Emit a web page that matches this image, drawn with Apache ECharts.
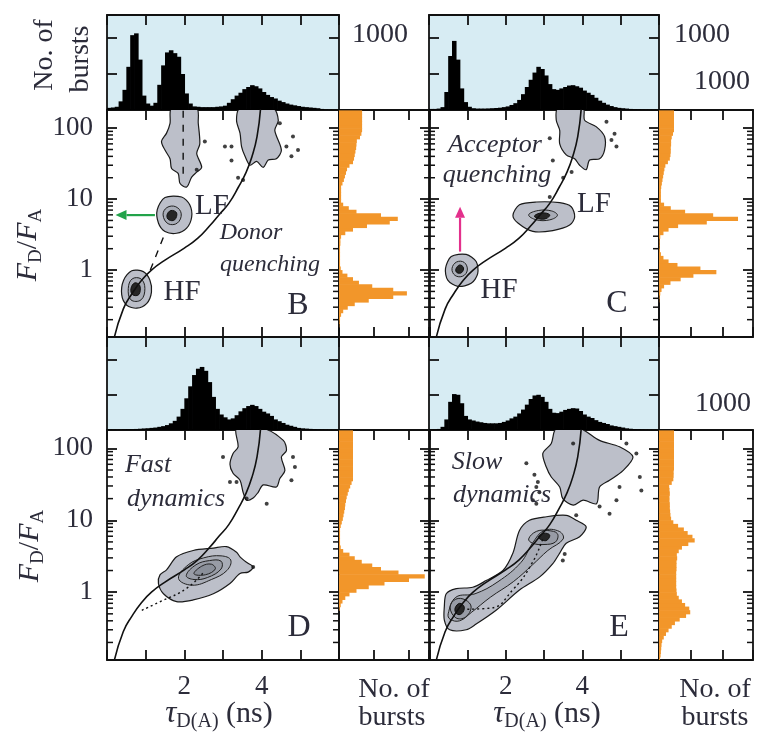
<!DOCTYPE html>
<html>
<head>
<meta charset="utf-8">
<script src="https://cdn.jsdelivr.net/npm/echarts@6.0.0/dist/echarts.min.js"></script>
<style>
html,body{margin:0;padding:0;background:#fff;}
#chart{width:765px;height:734px;}
#err{position:absolute;left:0;top:0;width:765px;color:red;font:11px monospace;white-space:pre-wrap;z-index:10;}
</style>
</head>
<body>
<div id="chart"></div>
<div id="err"></div>
<script>
const errs=[];
function logErr(m){errs.push(String(m).slice(0,400));document.getElementById('err').textContent=errs.join('\n');}
window.onerror=function(m,s,l,c,e){logErr('ERR '+m+' '+(e&&e.stack?e.stack.split('\n').slice(0,4).join(' | '):''));};
const oe=console.error;console.error=function(){logErr('CE '+Array.from(arguments).join(' '));oe.apply(console,arguments);};
const ow=console.warn;console.warn=function(){logErr('CW '+Array.from(arguments).join(' '));ow.apply(console,arguments);};

// ---------------- DATA ----------------
const tauBinCenters = [0.05,0.15,0.25,0.35,0.45,0.55,0.65,0.75,0.85,0.95,1.05,1.15,1.25,1.35,1.45,1.55,1.65,1.75,1.85,1.95,2.05,2.15,2.25,2.35,2.45,2.55,2.65,2.75,2.85,2.95,3.05,3.15,3.25,3.35,3.45,3.55,3.65,3.75,3.85,3.95,4.05,4.15,4.25,4.35,4.45,4.55,4.65,4.75,4.85,4.95,5.05,5.15,5.25,5.35,5.45,5.55,5.65,5.75,5.85,5.95];
const histTopB = [30,35,45,120,280,600,1040,1065,700,200, 90,60,100,350,620,800,830,790,740,500, 230,90,50,45,40,40,40,40,45,50, 60,100,150,200,240,290,320,345,330,300, 250,210,180,160,130,110,90,75,65,55, 45,40,35,30,25,15,8,5,3,2];
const histTopC = [15,15,20,40,250,750,960,700,300,110, 45,25,20,20,20,22,25,28,32,40, 50,70,95,140,220,320,420,520,600,570, 480,360,290,280,300,320,340,345,330,310, 270,240,210,170,130,100,75,55,40,30, 25,20,15,12,10,8,6,5,4,3];
const histTopD = [5,5,5,5,8,10,12,15,18,22, 25,30,35,45,55,70,95,130,190,300, 450,620,780,870,895,840,680,470,300,220, 180,150,165,210,265,310,340,357,340,300, 260,235,200,150,125,100,75,60,45,30, 24,20,16,13,10,8,6,4,3,2];
const histTopE = [8,10,15,45,150,400,510,500,380,200, 150,135,120,110,100,95,95,95,100,115, 135,165,190,235,290,360,440,490,500,470, 400,300,245,240,260,285,300,310,305,270, 220,190,170,140,115,100,85,65,55,45, 35,24,18,14,11,9,6,4,3,2];

const fLogEdges = [-0.95,-0.9,-0.85,-0.8,-0.75,-0.7,-0.65,-0.6,-0.55,-0.5,-0.45,-0.4,-0.35,-0.3,-0.25,-0.2,-0.15,-0.1,-0.05,0,0.05,0.1,0.15,0.2,0.25,0.3,0.35,0.4,0.45,0.5,0.55,0.6,0.65,0.7,0.75,0.8,0.85,0.9,0.95,1,1.05,1.1,1.15,1.2,1.25,1.3,1.35,1.4,1.45,1.5,1.55,1.6,1.65,1.7,1.75,1.8,1.85,1.9,1.95,2,2.05,2.1,2.15,2.2,2.25];
const rhB = [0,0,0,1,2,3,6,12,25,45, 85,155,194,155,95,57,40,24,10,5, 3,3,3,3,3,3,4,4,6,18, 40,80,145,168,120,50,28,12,6,6, 6,6,6,10,14,17,20,23,30,40, 43,45,47,49,50,51,60,64,66,66, 66,66,66,66];
const rhC = [0,0,0,0,0,0,0,0,0,0, 1,2,4,8,16,36,68,108,180,130, 58,30,14,6,3,2,2,2,4,14, 30,60,150,248,170,82,37,16,6,6, 6,6,7,9,11,13,15,17,20,28, 34,36,37,37,38,38,40,44,47,47, 47,47,47,47];
const rhD = [0,0,0,0,0,0,0,0,0,0, 0,0,0,0,2,5,10,18,30,50, 85,130,200,245,170,120,95,65,45,30, 12,5,3,3,3,3,3,5,8,11, 13,15,17,18,20,22,25,28,32,36, 40,40,40,40,40,40,40,40,40,40, 40,40,40,40];
const rhE = [3,5,6,7,8,10,15,22,30,40, 50,65,85,98,95,82,72,62,56,55, 54,54,54,54,54,55,55,55,57,56, 62,72,92,112,105,90,78,60,45,38, 36,35,34,34,33,33,34,33,32,40, 45,46,46,47,47,47,47,47,47,47, 47,47,47,47];

const tauTicks = [2, 4];
const fMajorTicks = [1, 10, 100];
const logMinorTicks = [0.2,0.3,0.4,0.5,0.6,0.7,0.8,0.9,2,3,4,5,6,7,8,9,20,30,40,50,60,70,80,90];

const staticTau = [0.18,0.42,0.65,0.9,1.15,1.5,2.0,2.35,2.65,2.9,3.15,3.4,3.6,3.75,3.88,3.97];
const staticF   = [0.108,0.282,0.468,0.724,1.0,1.38,2.04,2.82,4.17,6.03,8.71,14.8,24,39.8,75.9,185];

const blobB1 = [[1.67,190],[2.32,190],[2.36,117],[2.40,60],[2.32,44],[2.45,28],[2.32,24],[2.19,20.4],[2.06,14.8],[1.89,16.6],[1.84,23],[1.67,27],[1.63,37],[1.5,49],[1.41,65],[1.54,85],[1.63,117]];
const blobB2 = [[3.44,190],[4.3,190],[4.43,129],[4.34,93],[4.51,49],[4.38,37],[4.17,35.5],[4.04,28],[3.87,34],[3.7,30],[3.57,40],[3.48,55],[3.44,85],[3.35,129]];
const blobBLF = [[1.5,10.5],[1.93,10.7],[2.14,8.3],[2.19,5.6],[2.06,3.9],[1.8,3.3],[1.5,3.5],[1.33,4.6],[1.30,7.1]];
const blobBHF = [[0.64,0.98],[0.94,0.95],[1.11,0.72],[1.15,0.49],[1.03,0.34],[0.77,0.29],[0.51,0.32],[0.38,0.45],[0.43,0.72]];
const ringBLF = [[1.45,6.0],[1.55,7.6],[1.78,7.8],[1.92,6.2],[1.82,4.6],[1.58,4.5]];
const coreBLF = [[1.55,5.9],[1.65,6.9],[1.8,6.4],[1.75,5.1],[1.6,5.1]];
const ringBHF = [[0.55,0.55],[0.65,0.75],[0.88,0.75],[0.98,0.55],[0.88,0.38],[0.62,0.38]];
const coreBHF = [[0.62,0.55],[0.72,0.66],[0.85,0.6],[0.82,0.45],[0.66,0.45]];
const dotsB = [[2.53,65],[2.32,26],[3.05,55],[3.22,55],[3.22,35],[3.39,20],[3.52,18.6],[4.64,55],[4.81,76],[4.77,40],[4.94,49],[4.47,117]];
const dashB1 = [[1.97,175],[1.97,20]];
const dashB2 = [[1.12,1.0],[1.5,3.3]];
const arrowB = [[1.24,5.95],[0.22,5.95]];

const blobC1 = [[3.36,190],[4.02,190],[4.06,129],[4.36,105],[4.58,76],[4.58,49],[4.45,37],[4.19,35.5],[4.1,26],[3.93,30],[3.8,37],[3.58,42],[3.41,60],[3.41,93],[3.32,129]];
const blobCLF = [[2.36,8.3],[2.8,9.1],[3.41,8.9],[3.71,7.8],[3.8,5.6],[3.67,4.3],[3.23,3.6],[2.71,3.5],[2.32,4.6],[2.19,5.9]];
const blobCHF = [[0.58,1.55],[0.97,1.66],[1.23,1.32],[1.27,0.89],[1.1,0.65],[0.75,0.59],[0.49,0.72],[0.43,1.05]];
const ringCLF = [[2.6,6.0],[2.85,6.9],[3.2,6.8],[3.35,5.9],[3.15,5.1],[2.8,5.1]];
const coreCLF = [[2.75,5.8],[2.95,6.4],[3.15,6.0],[3.05,5.3],[2.85,5.3]];
const ringCHF = [[0.6,1.05],[0.72,1.3],[0.92,1.28],[1.0,1.0],[0.88,0.82],[0.68,0.84]];
const coreCHF = [[0.7,1.03],[0.8,1.18],[0.9,1.08],[0.85,0.92],[0.73,0.92]];
const dotsC = [[3.15,72],[3.23,35],[3.5,20],[3.72,24],[3.15,10.7],[4.76,68],[4.89,55],[4.84,83],[4.63,123]];
const arrowC = [[0.81,1.82],[0.81,7.8]];

const blobD1 = [[3.35,190],[4.04,190],[4.56,129],[4.64,93],[4.51,76],[4.6,49],[4.47,38],[4.38,29],[4.04,31],[3.91,24.5],[3.78,20.4],[3.61,19],[3.52,24.5],[3.44,36],[3.26,45],[3.18,60],[3.26,85],[3.39,105]];
const blobD2 = [[1.54,2.04],[1.8,3.1],[2.23,3.8],[2.75,4.1],[3.09,4.3],[3.35,3.6],[3.44,3.1],[3.61,2.6],[3.78,2.24],[3.65,1.9],[3.44,1.82],[3.18,1.32],[2.75,0.95],[2.23,0.78],[1.8,0.74],[1.46,0.95],[1.33,1.32],[1.37,1.74]];
const ringD1 = [[1.85,1.55],[2.1,2.4],[2.5,3.0],[2.95,3.2],[3.2,2.8],[3.1,2.0],[2.7,1.5],[2.2,1.25]];
const ringD2 = [[2.05,1.7],[2.3,2.4],[2.65,2.75],[2.95,2.7],[2.95,2.1],[2.6,1.6],[2.25,1.5]];
const ringD3 = [[2.25,1.8],[2.45,2.3],[2.7,2.45],[2.8,2.1],[2.55,1.75]];
const dotsD = [[3.0,76],[3.18,34],[3.35,34],[3.61,20],[4.13,17],[4.81,76],[4.86,55],[4.77,36],[3.78,2.24]];
const dotD = [[0.9,0.56],[1.4,0.75],[2.05,1.12],[2.5,1.9]];

const blobE1 = [[3.32,190],[3.93,190],[4.45,129],[4.97,105],[5.32,76],[5.06,49],[4.71,36],[4.45,29],[4.37,17],[4.02,19],[3.76,16.2],[3.49,20],[3.41,29],[3.19,40],[3.06,55],[2.97,85],[3.19,117]];
const blobE2 = [[0.45,0.95],[0.71,1.12],[1.14,1.17],[1.49,1.45],[1.93,2.0],[2.19,3.5],[2.36,7.2],[2.62,10],[3.06,11.2],[3.58,11.7],[3.84,10],[4.1,8.1],[3.93,5.9],[3.58,4.8],[3.41,3.5],[3.23,2.5],[2.88,1.62],[2.36,1.07],[1.75,0.56],[1.23,0.36],[0.97,0.3],[0.54,0.3],[0.4,0.41],[0.4,0.63]];
const ringE2 = [[0.5,0.5],[0.7,0.85],[1.2,0.95],[1.8,1.4],[2.4,2.6],[2.7,4.8],[3.0,7.2],[3.4,7.0],[3.5,5.5],[3.1,3.8],[2.7,2.4],[2.2,1.4],[1.6,0.85],[1.1,0.52],[0.8,0.4],[0.55,0.42]];
const ringEHF = [[0.55,0.62],[0.7,0.8],[0.95,0.78],[1.1,0.62],[0.95,0.45],[0.7,0.44]];
const coreEHF = [[0.68,0.6],[0.8,0.7],[0.92,0.62],[0.85,0.5],[0.72,0.5]];
const ringELF = [[2.6,5.5],[2.8,7.0],[3.1,7.2],[3.35,6.5],[3.3,5.0],[3.0,4.6],[2.7,4.8]];
const coreELF = [[2.85,5.8],[3.0,6.6],[3.15,6.2],[3.05,5.2]];
const dotsE = [[2.54,62],[2.75,43],[2.84,34],[2.8,29],[2.88,24.5],[2.71,19],[2.8,17],[3.84,11.7],[3.76,117],[5.15,117],[5.41,85],[5.5,40],[5.54,26],[4.97,29],[4.89,19],[4.45,15.5],[4.71,12.3],[3.49,2.75],[3.54,3.4]];
const dotE = [[1.0,0.58],[1.6,0.6],[2.2,1.1],[2.7,2.6],[2.97,5.6]];

// ---------------- LAYOUT / STYLE ----------------
const SERIF = "'Liberation Serif','DejaVu Serif',serif";
const TXT = '#2c2c3a';
const INK = '#111111';
const HIST_BG = '#d7ecf3';
const ORANGE = '#f2962a';
const BLOB = '#bcbfc9';
const Y_MIN = 0.114, Y_MAX = 180;
const COLS = [{mL:107, mR:339, rR:430}, {mL:429, mR:659, rR:753}];
const ROWS = [{hT:15, mT:110, mB:337}, {hT:337, mT:430, mB:660}];

const grids = [], xAxes = [], yAxes = [], series = [];
const tickCfg = (len) => ({show:true, inside:true, length:len, lineStyle:{color:INK, width:1.8}});
const lineCfg = () => ({show:true, onZero:false, lineStyle:{color:INK, width:1.8}});

function addGrid(l, t, w, h, bg) {
  const g = {left:l, top:t, width:w, height:h, containLabel:false};
  if (bg) { g.show = true; g.backgroundColor = bg; g.borderWidth = 0; }
  grids.push(g);
  return grids.length - 1;
}
function addX(gi, o) {
  xAxes.push(Object.assign({gridIndex:gi, type:'value', axisLine:lineCfg(), splitLine:{show:false},
    axisTick:tickCfg(10), axisLabel:{show:false}}, o));
  return xAxes.length - 1;
}
function addY(gi, o) {
  yAxes.push(Object.assign({gridIndex:gi, type:'value', axisLine:lineCfg(), splitLine:{show:false},
    axisTick:tickCfg(10), axisLabel:{show:false}}, o));
  return yAxes.length - 1;
}
const labelStyle = {fontFamily:SERIF, fontSize:27, color:TXT};
function logY(o) {
  return Object.assign({type:'log', logBase:10, min:Y_MIN, max:Y_MAX}, o);
}
function polySeries(xi, yi, pts, style, z, smooth) {
  return {type:'custom', xAxisIndex:xi, yAxisIndex:yi, silent:true, clip:true, z:z,
    data:[pts[0]],
    renderItem: (params, api) => ({type:'polygon',
      shape:{points: pts.map(p => api.coord(p)), smooth: smooth},
      style: style})};
}
function minorTickSeries(xi, yi, xMin, xMax, left, right) {
  return {type:'custom', xAxisIndex:xi, yAxisIndex:yi, silent:true, clip:false, z:9,
    data: logMinorTicks.map(v => [xMin, v]),
    renderItem: (params, api) => {
      const v = api.value(1);
      const L = api.coord([xMin, v]), R = api.coord([xMax, v]);
      const ch = [];
      if (left) ch.push({type:'line', shape:{x1:L[0], y1:L[1], x2:L[0]+6, y2:L[1]}, style:{stroke:INK, lineWidth:1.5}});
      if (right) ch.push({type:'line', shape:{x1:R[0]-6, y1:R[1], x2:R[0], y2:R[1]}, style:{stroke:INK, lineWidth:1.5}});
      return {type:'group', children:ch};
    }};
}
function arrowSeries(xi, yi, pts, color) {
  return {type:'custom', xAxisIndex:xi, yAxisIndex:yi, silent:true, clip:false, z:8,
    data:[pts[0]],
    renderItem: (params, api) => {
      const a = api.coord(pts[0]), b = api.coord(pts[1]);
      const dx = b[0]-a[0], dy = b[1]-a[1], L = Math.hypot(dx, dy), ux = dx/L, uy = dy/L;
      const hl = 11, hw = 5;
      const bx = b[0]-ux*hl, by = b[1]-uy*hl;
      return {type:'group', children:[
        {type:'line', shape:{x1:a[0], y1:a[1], x2:bx, y2:by}, style:{stroke:color, lineWidth:2.2}},
        {type:'polygon', shape:{points:[[b[0],b[1]],[bx-uy*hw, by+ux*hw],[bx+uy*hw, by-ux*hw]]}, style:{fill:color}}
      ]};
    }};
}

const panels = [
  {col:0,row:0, top:histTopB, right:rhB, rMax:260, blobs:[blobB1,blobB2,blobBLF,blobBHF], rings:[ringBLF,ringBHF], cores:[coreBLF,coreBHF], dots:dotsB, dashed:[dashB1,dashB2], dotted:[], arrows:[[arrowB,'#22a34a']], xLab:false, yLab:true},
  {col:1,row:0, top:histTopC, right:rhC, rMax:295, blobs:[blobC1,blobCLF,blobCHF], rings:[ringCLF,ringCHF], cores:[coreCLF,coreCHF], dots:dotsC, dashed:[], dotted:[], arrows:[[arrowC,'#e3308c']], xLab:false, yLab:false},
  {col:0,row:1, top:histTopD, right:rhD, rMax:260, blobs:[blobD1,blobD2], rings:[ringD1,ringD2,ringD3], cores:[], dots:dotsD, dashed:[], dotted:[dotD], arrows:[], xLab:true, yLab:true},
  {col:1,row:1, top:histTopE, right:rhE, rMax:295, blobs:[blobE1,blobE2], rings:[ringE2,ringEHF,ringELF], cores:[coreEHF,coreELF], dots:dotsE, dashed:[], dotted:[dotE], arrows:[], xLab:true, yLab:false}
];

panels.forEach(p => {
  const c = COLS[p.col], r = ROWS[p.row];
  const gM = addGrid(c.mL, r.mT, c.mR - c.mL, r.mB - r.mT, null);
  const gH = addGrid(c.mL, r.hT, c.mR - c.mL, r.mT - r.hT, HIST_BG);
  const gR = addGrid(c.mR, r.mT, c.rR - c.mR, r.mB - r.mT, null);

  const xM = addX(gM, {position:'bottom', min:0, max:6, interval:1,
    axisLabel: p.xLab ? Object.assign({show:true, margin:13, formatter: v => tauTicks.includes(v) ? String(v) : ''}, labelStyle) : {show:false}});
  addX(gM, {position:'top', min:0, max:6, interval:1});
  const yM = addY(gM, logY({position:'left',
    axisLabel: p.yLab ? Object.assign({show:true, margin:14, showMinLabel:false, showMaxLabel:false,
      formatter: v => { const m = fMajorTicks.find(t => Math.abs(v - t) / t < 1e-6); return m ? String(m) : ''; }}, labelStyle) : {show:false}}));
  addY(gM, logY({position:'right'}));

  const xH = addX(gH, {position:'top', min:0, max:6, interval:1});
  addX(gH, {position:'bottom', min:0, max:6, interval:1, axisTick:{show:false}});
  const yH = addY(gH, {position:'left', min:0, max:1320, interval:500});
  addY(gH, {position:'right', min:0, max:1320, interval:500});

  const xR = addX(gR, {position:'top', min:0, max:p.rMax, interval:100});
  addX(gR, {position:'bottom', min:0, max:p.rMax, interval:100});
  addY(gR, logY({position:'left', axisTick:{show:false}}));
  const yR = addY(gR, logY({position:'right'}));

  series.push({type:'custom', xAxisIndex:xH, yAxisIndex:yH, silent:true, clip:true, z:3,
    data: tauBinCenters.map((t, i) => [t, p.top[i]]),
    renderItem: (params, api) => {
      const t = api.value(0), h = api.value(1);
      const a = api.coord([t - 0.05, h]), b = api.coord([t + 0.05, 0]);
      return {type:'rect', shape:{x:a[0], y:a[1], width:b[0]-a[0]+0.7, height:b[1]-a[1]}, style:{fill:'#000'}};
    }});
  series.push({type:'custom', xAxisIndex:xR, yAxisIndex:yR, silent:true, clip:true, z:3,
    data: p.right.map((cnt, i) => [cnt, Math.pow(10, (fLogEdges[i] + fLogEdges[i+1]) / 2), i]),
    renderItem: (params, api) => {
      const cnt = api.value(0), i = api.value(2);
      const a = api.coord([0, Math.pow(10, fLogEdges[i+1])]);
      const b = api.coord([cnt, Math.pow(10, fLogEdges[i])]);
      return {type:'rect', shape:{x:a[0], y:a[1], width:b[0]-a[0], height:b[1]-a[1]+0.6}, style:{fill:ORANGE}};
    }});

  p.blobs.forEach(b => series.push(polySeries(xM, yM, b, {fill:BLOB, stroke:'#1a1a1a', lineWidth:1.2}, 2, 0.3)));
  p.rings.forEach(b => series.push(polySeries(xM, yM, b, {fill:'rgba(70,72,90,0.16)', stroke:'#222', lineWidth:1}, 3, 0.4)));
  p.cores.forEach(b => series.push(polySeries(xM, yM, b, {fill:'#262626', stroke:'#111', lineWidth:1}, 4, 0.4)));
  series.push({type:'scatter', xAxisIndex:xM, yAxisIndex:yM, silent:true, z:4, symbol:'circle', symbolSize:4,
    itemStyle:{color:'#111'}, data:p.dots});

  series.push({type:'line', xAxisIndex:xM, yAxisIndex:yM, silent:true, z:6, smooth:true, showSymbol:false, symbol:'none', clip:true,
    lineStyle:{color:INK, width:1.6}, data: staticTau.map((t, i) => [t, staticF[i]])});
  p.dashed.forEach(d => series.push({type:'line', xAxisIndex:xM, yAxisIndex:yM, silent:true, z:6, symbol:'none', clip:true,
    lineStyle:{color:INK, width:1.4, type:[7,7]}, data:d}));
  p.dotted.forEach(d => series.push({type:'line', xAxisIndex:xM, yAxisIndex:yM, silent:true, z:6, symbol:'none', smooth:true, clip:true,
    lineStyle:{color:INK, width:1.4, type:[2,3]}, data:d}));
  p.arrows.forEach(a => series.push(arrowSeries(xM, yM, a[0], a[1])));

  series.push(minorTickSeries(xM, yM, 0, 6, true, true));
  series.push(minorTickSeries(xR, yR, 0, p.rMax, false, true));
});

function T(x, y, text, size, extra) {
  extra = extra || {};
  return {type:'text', x:x, y:y, z:100, rotation: extra.rotation || 0,
    style: Object.assign({text:text, x:0, y:0, fontFamily:SERIF, fontSize:size, fill:TXT,
      align:'center', verticalAlign:'middle', fontStyle: extra.italic ? 'italic' : 'normal'}, extra.style || {})};
}
const fdfaRich = {
  i:{fontFamily:SERIF, fontSize:30, fontStyle:'italic', fill:TXT, lineHeight:36, verticalAlign:'middle'},
  n:{fontFamily:SERIF, fontSize:30, fill:TXT, lineHeight:36, verticalAlign:'middle'},
  s:{fontFamily:SERIF, fontSize:19, fill:TXT, lineHeight:19, verticalAlign:'bottom'}
};
const tauRich = {
  t:{fontFamily:SERIF, fontSize:31, fontStyle:'italic', fill:TXT, lineHeight:36, verticalAlign:'middle'},
  n:{fontFamily:SERIF, fontSize:30, fill:TXT, lineHeight:36, verticalAlign:'middle'},
  s:{fontFamily:SERIF, fontSize:20, fill:TXT, lineHeight:20, verticalAlign:'bottom'}
};
const R90 = Math.PI / 2;
const graphic = [
  T(45, 55, 'No. of', 28, {rotation:R90}),
  T(81, 59, 'bursts', 28, {rotation:R90}),
  T(28, 245, '{i|F}{s|D}{n|/}{i|F}{s|A}', 30, {rotation:R90, style:{rich:fdfaRich}}),
  T(30, 546, '{i|F}{s|D}{n|/}{i|F}{s|A}', 30, {rotation:R90, style:{rich:fdfaRich}}),
  T(380, 35, '1000', 28), T(702, 35, '1000', 28), T(722, 82, '1000', 28), T(723, 404, '1000', 28),
  T(298, 306, 'B', 32), T(617, 304, 'C', 32), T(299, 628, 'D', 32), T(619, 628, 'E', 32),
  T(212, 206, 'LF', 29), T(182, 292, 'HF', 29), T(594, 204, 'LF', 29), T(499, 290, 'HF', 29),
  T(251, 233, 'Donor', 24, {italic:true}), T(270, 265, 'quenching', 24, {italic:true}),
  T(495, 145, 'Acceptor', 26, {italic:true}), T(497, 175, 'quenching', 26, {italic:true}),
  T(148, 465, 'Fast', 26, {italic:true}), T(176, 499, 'dynamics', 26, {italic:true}),
  T(477, 462, 'Slow', 26, {italic:true}), T(502, 495, 'dynamics', 26, {italic:true}),
  T(219, 714, '{t|τ}{s|D(A)}{n| (ns)}', 30, {style:{rich:tauRich}}),
  T(547, 714, '{t|τ}{s|D(A)}{n| (ns)}', 30, {style:{rich:tauRich}}),
  T(394, 690, 'No. of', 28), T(392, 718, 'bursts', 28),
  T(715, 690, 'No. of', 28), T(715, 718, 'bursts', 28)
];

const chart = echarts.init(document.getElementById('chart'));
try {
  chart.setOption({
    animation:false,
    backgroundColor:'#ffffff',
    grid: grids, xAxis: xAxes, yAxis: yAxes, series: series, graphic: graphic
  });
} catch (e) { logErr('SET ' + e.message + ' ' + (e.stack || '').split('\n').slice(0,3).join(' | ')); }
</script>
</body>
</html>
